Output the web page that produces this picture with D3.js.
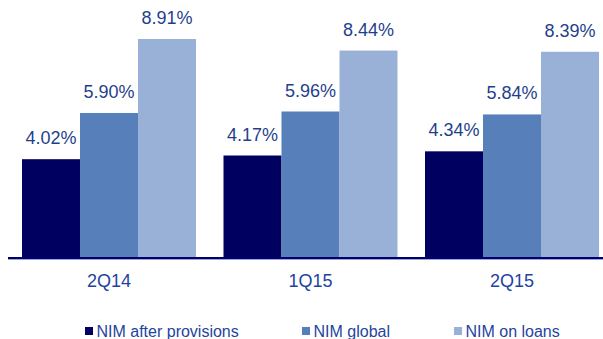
<!DOCTYPE html>
<html>
<head>
<meta charset="utf-8">
<script src="https://cdn.jsdelivr.net/npm/d3@7/dist/d3.min.js"></script>
<style>
  html, body { margin: 0; padding: 0; background: #fff; }
  svg { display: block; font-family: "Liberation Sans", Arial, sans-serif; }
</style>
</head>
<body>
<svg id="chart" width="603" height="339"></svg>
<script>
// Quarterly net interest margin figures (%)
const quarters = ["2Q14", "1Q15", "2Q15"];
const seriesNames = ["NIM after provisions", "NIM global", "NIM on loans"];
const nimAfterProvisions = [4.02, 4.17, 4.34];
const nimGlobal = [5.90, 5.96, 5.84];
const nimOnLoans = [8.91, 8.44, 8.39];
const seriesColors = ["#000060", "#577fb9", "#99b1d7"];

const seriesValues = [nimAfterProvisions, nimGlobal, nimOnLoans];

const svg = d3.select("#chart");
const baseY = 258;

const x0 = d3.scaleBand()
  .domain(quarters)
  .range([22, 599])
  .paddingInner(0.1365)
  .paddingOuter(0);

const x1 = d3.scaleBand()
  .domain(seriesNames)
  .range([0, x0.bandwidth()])
  .padding(0);

const y = d3.scaleLinear()
  .domain([0, 10])
  .range([baseY, 12.2]);

const color = d3.scaleOrdinal().domain(seriesNames).range(seriesColors);

const rows = quarters.map((q, i) => ({
  quarter: q,
  items: seriesNames.map((s, j) => ({ series: s, value: seriesValues[j][i] }))
}));

const groups = svg.append("g").selectAll("g")
  .data(rows)
  .join("g")
  .attr("transform", d => `translate(${x0(d.quarter)},0)`);

groups.selectAll("rect")
  .data(d => d.items)
  .join("rect")
  .attr("x", d => x1(d.series))
  .attr("y", d => y(d.value))
  .attr("width", x1.bandwidth())
  .attr("height", d => y(0) - y(d.value))
  .attr("fill", d => color(d.series));

groups.selectAll("text.value")
  .data(d => d.items)
  .join("text")
  .attr("class", "value")
  .attr("x", d => x1(d.series) + x1.bandwidth() / 2)
  .attr("y", d => y(d.value) - 15)
  .attr("text-anchor", "middle")
  .attr("font-size", 18)
  .attr("fill", "#1f3f8c")
  .text(d => d.value.toFixed(2) + "%");

// Baseline
svg.append("line")
  .attr("x1", 8).attr("x2", 603)
  .attr("y1", baseY + 1.5).attr("y2", baseY + 1.5)
  .attr("stroke", "#9aa6d0").attr("stroke-width", 1);
svg.append("line")
  .attr("x1", 8).attr("x2", 603)
  .attr("y1", baseY).attr("y2", baseY)
  .attr("stroke", "#000070").attr("stroke-width", 2);

// Category labels
const xAxis = d3.axisBottom(x0).tickSize(0).tickPadding(0);
const axisG = svg.append("g")
  .attr("transform", `translate(0,${baseY})`)
  .call(xAxis);
axisG.select(".domain").remove();
axisG.selectAll("text")
  .attr("y", 29)
  .attr("dy", null)
  .attr("font-size", 18)
  .attr("font-family", "'Liberation Sans', Arial, sans-serif")
  .attr("fill", "#1e44a0");

// Legend
const legendX = [85, 302, 454];
const legend = svg.append("g").selectAll("g")
  .data(seriesNames)
  .join("g")
  .attr("transform", (d, i) => `translate(${legendX[i]},0)`);
legend.append("rect")
  .attr("x", 0).attr("y", 327)
  .attr("width", 8).attr("height", 8)
  .attr("fill", d => color(d));
legend.append("text")
  .attr("x", 11.5).attr("y", 337)
  .attr("font-size", 16)
  .attr("fill", "#1e44a0")
  .text(d => d);
</script>
</body>
</html>
